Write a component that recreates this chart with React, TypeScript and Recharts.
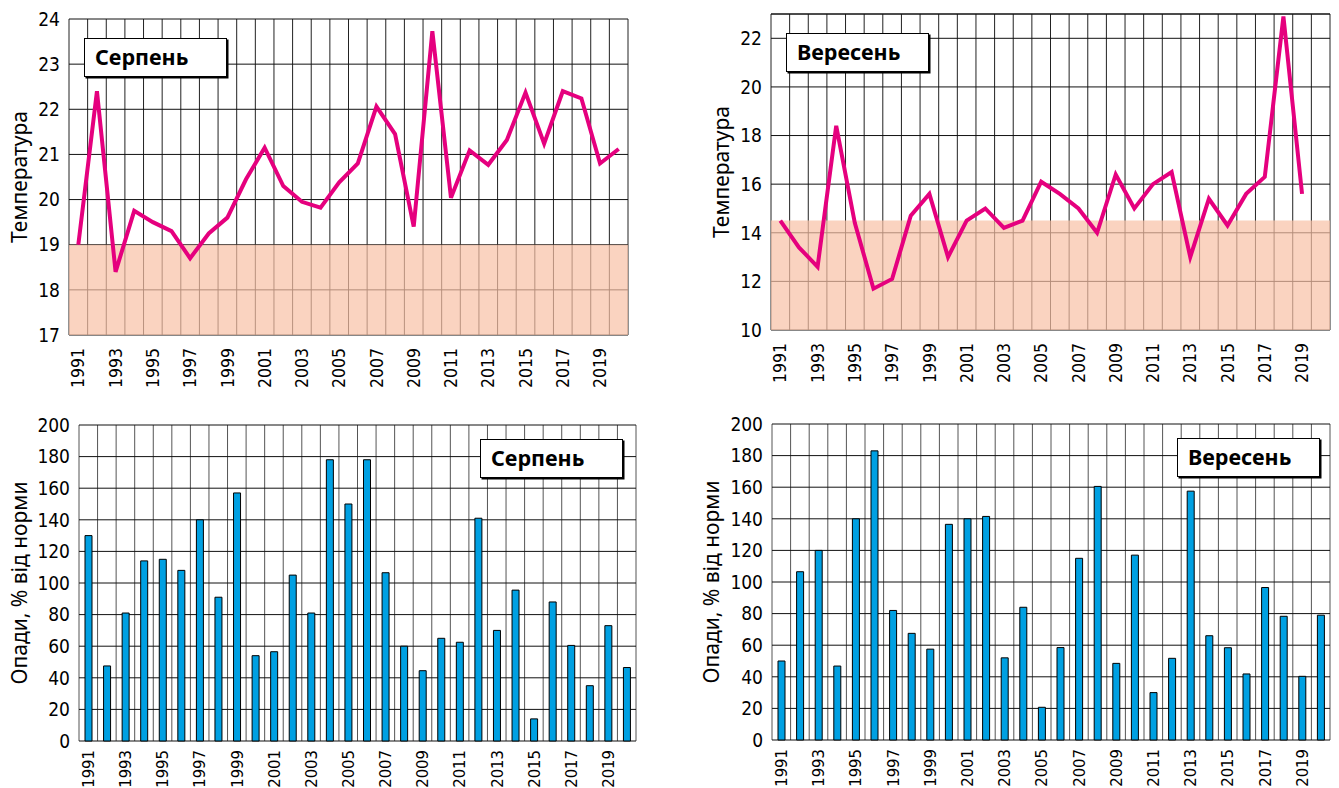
import React from 'react'
import { LineChart, Line, BarChart, Bar, XAxis, YAxis, CartesianGrid, ReferenceArea, ReferenceLine } from 'recharts'

const years = [
  1991, 1992, 1993, 1994, 1995, 1996, 1997, 1998, 1999, 2000,
  2001, 2002, 2003, 2004, 2005, 2006, 2007, 2008, 2009, 2010,
  2011, 2012, 2013, 2014, 2015, 2016, 2017, 2018, 2019, 2020,
]
const yearTicks = [1991, 1993, 1995, 1997, 1999, 2001, 2003, 2005, 2007, 2009, 2011, 2013, 2015, 2017, 2019]

// температура, серпень (1991–2020)
const augTemp = [
  19.0, 22.4, 18.4, 19.75, 19.5, 19.3, 18.7, 19.25, 19.6, 20.45,
  21.15, 20.3, 19.95, 19.82, 20.38, 20.8, 22.06, 21.45, 19.4, 23.73,
  20.04, 21.09, 20.77, 21.32, 22.37, 21.24, 22.4, 22.24, 20.8, 21.12,
]
// температура, вересень (1991–2019)
const sepTemp = [
  14.5, 13.4, 12.6, 18.4, 14.4, 11.7, 12.1, 14.7, 15.6, 13.0,
  14.5, 15.0, 14.2, 14.5, 16.1, 15.6, 15.0, 14.0, 16.4, 15.0,
  16.0, 16.5, 13.0, 15.4, 14.3, 15.6, 16.3, 22.9, 15.6,
]
// опади, % від норми
const augRain = [
  130, 47.5, 81, 114, 115, 108, 140, 91, 157, 54,
  56.5, 105, 81, 178, 150, 178, 106.5, 60, 44.5, 65,
  62.5, 141, 70, 95.5, 14, 88, 60.5, 35, 73, 46.5,
]
const sepRain = [
  50, 106.5, 120, 46.8, 140, 183, 82, 67.5, 57.5, 136.5,
  140, 141.5, 52, 84, 20.7, 58.5, 115, 160.5, 48.5, 117,
  30, 51.7, 157.5, 66, 58.4, 41.8, 96.5, 78.3, 40.3, 79,
]

const augTempTicks = [17, 18, 19, 20, 21, 22, 23, 24]
const sepTempTicks = [10, 12, 14, 16, 18, 20, 22]
const rainTicks = [0, 20, 40, 60, 80, 100, 120, 140, 160, 180, 200]

const augTempData = years.map((y, i) => ({ year: y, t: augTemp[i] }))
const sepTempData = years.map((y, i) => ({ year: y, t: sepTemp[i] }))
const augRainData = years.map((y, i) => ({ year: String(y), p: augRain[i] }))
const sepRainData = years.map((y, i) => ({ year: String(y), p: sepRain[i] }))

const narrow = '"Liberation Sans Narrow", "DejaVu Sans Condensed", "Arial Narrow", sans-serif'
const sans = '"Noto Sans", "Open Sans", sans-serif'
const magenta = '#e5007e'
const cyan = '#00a0e2'
const peach = '#f8c0a5'

// межі років (вертикальна сітка між роками)
const bandLines = ({ offset }: any) => {
  const n = years.length
  return Array.from({ length: n + 1 }, (_, i) => offset.left + (i * offset.width) / n)
}

const YearTick = ({ x, y, payload, size = 17.5 }: any) => (
  <text x={x} y={y} transform={`rotate(-90 ${x} ${y})`} textAnchor="end" dy="0.35em"
    fontFamily={narrow} fontSize={size} fill="#000">
    {payload.value}
  </text>
)

const yLabel = (text: string, cx: number) => ({ viewBox }: any) => {
  const cy = viewBox.y + viewBox.height / 2
  return (
    <text x={cx} y={cy} transform={`rotate(-90 ${cx} ${cy})`} textAnchor="middle" dy="0.35em"
      fontFamily={sans} fontSize={21} fill="#000">
      {text}
    </text>
  )
}

const TitleBox = ({ left, top, text }: { left: number; top: number; text: string }) => (
  <div style={{
    position: 'absolute', left, top, width: 143, height: 39, boxSizing: 'border-box',
    border: '1.3px solid #000', boxShadow: '1.5px 1.5px 0 #000', background: '#fff',
    fontFamily: sans, fontWeight: 700, fontSize: 21.5, lineHeight: '35px', paddingLeft: 10, color: '#000',
  }}>{text}</div>
)

const yTick = { fontFamily: narrow, fontSize: 19, fill: '#000' }

export default function App() {
  return (
    <div style={{ position: 'absolute', left: 0, top: 0, width: 1339, height: 788, background: '#fff', overflow: 'hidden' }}>
      <div style={{ position: 'absolute', left: 0, top: 0 }}>
        <LineChart width={660} height={390} data={augTempData} margin={{ top: 19, right: 32, bottom: 0, left: 0 }}>
          <CartesianGrid horizontal={false} stroke="#222" strokeOpacity={1} verticalCoordinatesGenerator={bandLines} />
          <CartesianGrid vertical={false} stroke="#111" strokeOpacity={1} />
          <ReferenceArea y1={17} y2={19} fill={peach} fillOpacity={0.7} stroke="none" />
          <XAxis dataKey="year" type="number" domain={[1990.5, 2020.5]} ticks={yearTicks} interval={0}
            tick={<YearTick />} tickLine={false} axisLine={false} tickSize={0} tickMargin={13} height={55} />
          <YAxis domain={[17, 24]} ticks={augTempTicks} tick={yTick} tickLine={false} axisLine={false}
            tickSize={0} tickMargin={9} width={69} label={{ content: yLabel('Температура', 20) }} />
          <Line dataKey="t" stroke={magenta} strokeWidth={4} dot={false} isAnimationActive={false} />
        </LineChart>
        <TitleBox left={84} top={38} text="Серпень" />
      </div>

      <div style={{ position: 'absolute', left: 680, top: 0 }}>
        <LineChart width={659} height={390} data={sepTempData} margin={{ top: 14, right: 9, bottom: 0, left: 0 }}>
          <CartesianGrid horizontal={false} stroke="#222" strokeOpacity={1} verticalCoordinatesGenerator={bandLines} />
          <CartesianGrid vertical={false} stroke="#111" strokeOpacity={1} />
          <ReferenceLine y={23} stroke="#111" />
          <ReferenceArea y1={10} y2={14.5} fill={peach} fillOpacity={0.7} stroke="none" />
          <XAxis dataKey="year" type="number" domain={[1990.5, 2020.5]} ticks={yearTicks} interval={0}
            tick={<YearTick />} tickLine={false} axisLine={false} tickSize={0} tickMargin={13} height={60} />
          <YAxis domain={[10, 23]} ticks={sepTempTicks} tick={yTick} tickLine={false} axisLine={false}
            tickSize={0} tickMargin={9} width={91} label={{ content: yLabel('Температура', 42) }} />
          <Line dataKey="t" stroke={magenta} strokeWidth={4} dot={false} isAnimationActive={false} />
        </LineChart>
        <TitleBox left={106} top={33} text="Вересень" />
      </div>

      <div style={{ position: 'absolute', left: 0, top: 400 }}>
        <BarChart width={660} height={388} data={augRainData} margin={{ top: 25, right: 24, bottom: 0, left: 0 }}>
          <CartesianGrid horizontal={false} stroke="#555" strokeOpacity={1} verticalCoordinatesGenerator={bandLines} />
          <CartesianGrid vertical={false} stroke="#111" strokeOpacity={1} />
          <XAxis dataKey="year" interval={1} tick={<YearTick size={16.5} />} tickLine={false} axisLine={false}
            tickSize={0} tickMargin={9} height={47} />
          <YAxis domain={[0, 200]} ticks={rainTicks} tick={yTick} tickLine={false} axisLine={false}
            tickSize={0} tickMargin={9} width={79} label={{ content: yLabel('Опади, % від норми', 20) }} />
          <Bar dataKey="p" fill={cyan} stroke="#000" strokeWidth={1} barSize={7} isAnimationActive={false} />
        </BarChart>
        <TitleBox left={480} top={39} text="Серпень" />
      </div>

      <div style={{ position: 'absolute', left: 680, top: 400 }}>
        <BarChart width={659} height={388} data={sepRainData} margin={{ top: 24, right: 9, bottom: 0, left: 0 }}>
          <CartesianGrid horizontal={false} stroke="#555" strokeOpacity={1} verticalCoordinatesGenerator={bandLines} />
          <CartesianGrid vertical={false} stroke="#111" strokeOpacity={1} />
          <XAxis dataKey="year" interval={1} tick={<YearTick size={16.5} />} tickLine={false} axisLine={false}
            tickSize={0} tickMargin={9} height={48} />
          <YAxis domain={[0, 200]} ticks={rainTicks} tick={yTick} tickLine={false} axisLine={false}
            tickSize={0} tickMargin={9} width={92} label={{ content: yLabel('Опади, % від норми', 32) }} />
          <Bar dataKey="p" fill={cyan} stroke="#000" strokeWidth={1} barSize={7} isAnimationActive={false} />
        </BarChart>
        <TitleBox left={497} top={38} text="Вересень" />
      </div>
    </div>
  )
}
